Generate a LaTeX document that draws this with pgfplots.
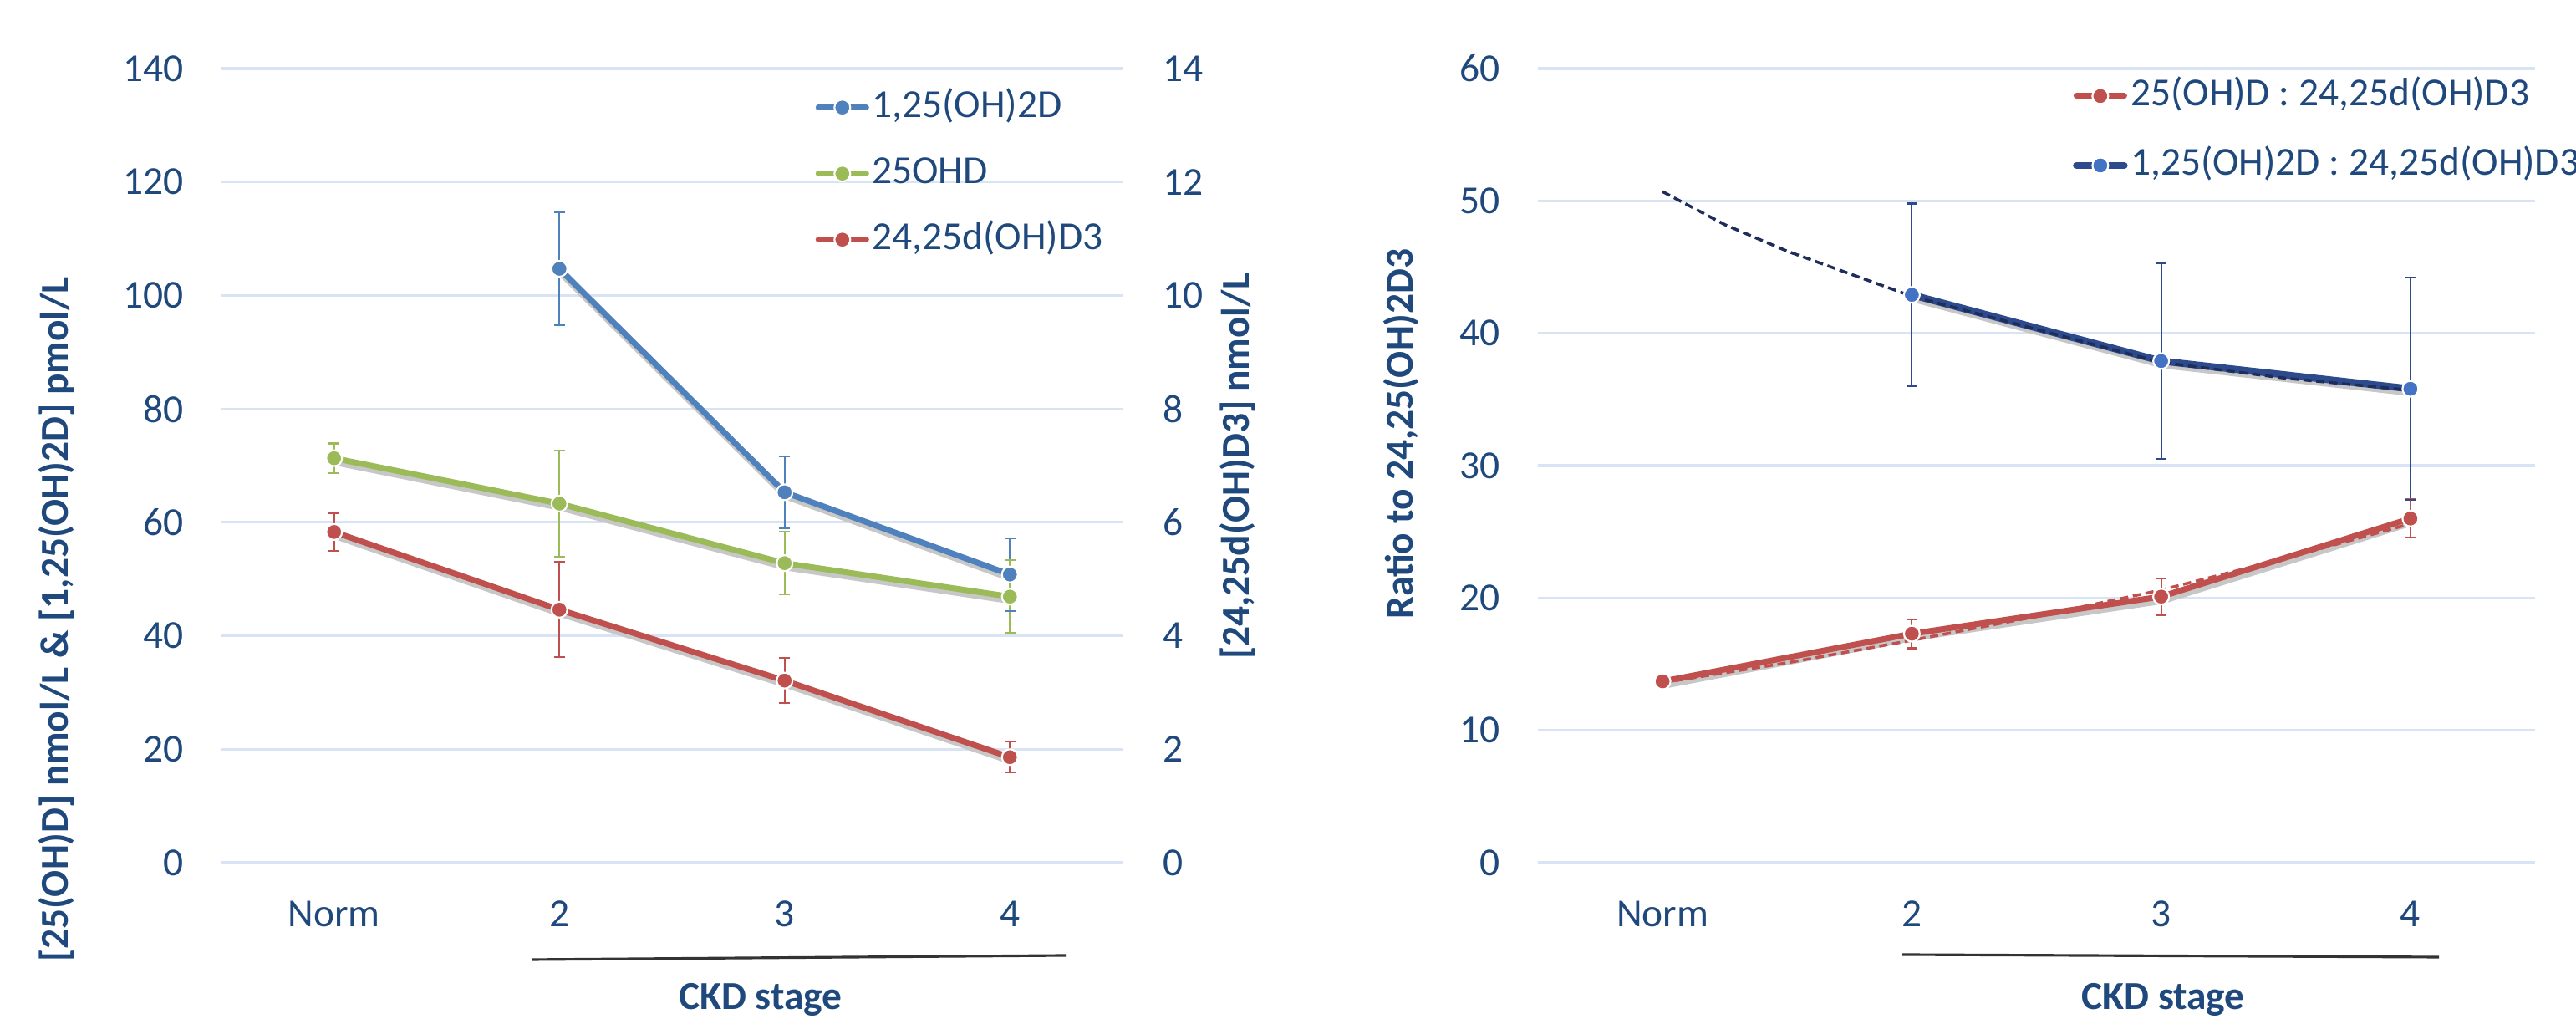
\documentclass[border=0pt]{standalone}
\usepackage{fontspec}
\setmainfont{Carlito}
\usepackage{pgfplots}
\usepackage{pgfplotstable}
\pgfplotsset{compat=1.18}
\definecolor{textblue}{RGB}{31,73,125}
\definecolor{gridc}{RGB}{216,227,243}
\definecolor{blueL}{RGB}{79,129,189}
\definecolor{greenL}{RGB}{155,187,89}
\definecolor{redL}{RGB}{192,80,77}
\definecolor{navyL}{RGB}{44,74,140}
\definecolor{navyM}{RGB}{68,114,196}
\definecolor{navyT}{RGB}{30,45,90}
\newcommand{\tickfont}{\fontsize{13.5}{16}\selectfont}

% left chart data (x, mean, error, upper cap, lower cap)
\pgfplotstableread{
x y e hi lo
1 104.7 10.0 114.7 94.7
2 65.3 6.3 71.6 59.0
3 50.8 6.4 57.2 44.4
}\blueD
\pgfplotstableread{
x y e hi lo
0 71.3 2.6 73.9 68.7
1 63.3 9.3 72.6 54.0
2 52.8 5.5 58.3 47.3
3 46.9 6.4 53.3 40.5
}\greenD
\pgfplotstableread{
x y e hi lo
0 5.83 0.33 6.16 5.50
1 4.46 0.84 5.30 3.62
2 3.21 0.40 3.61 2.81
3 1.86 0.27 2.13 1.59
}\redD
% right chart data
\pgfplotstableread{
x y e hi lo
0 13.7 0 13.7 13.7
1 17.3 1.1 18.4 16.2
2 20.1 1.4 21.5 18.7
3 26.0 1.45 27.45 24.55
}\redR
\pgfplotstableread{
x y e hi lo
1 42.9 6.9 49.8 36.0
2 37.9 7.4 45.3 30.5
3 35.8 8.4 44.2 27.4
}\blueR
\pgfplotstableread{
x y
0 50.7
0.25 48.2
0.5 46.2
0.75 44.5
1 42.8
1.5 40.3
2 37.8
2.5 36.6
3 35.7
}\blueT
\pgfplotstableread{
x y
0 13.6
0.5 15.1
1 16.8
1.5 18.6
2 20.6
2.5 23.0
3 25.6
}\redT

\pgfplotsset{
  base/.style={
    scale only axis, clip=false,
    axis line style={draw=none},
    major tick length=0pt, tick style={draw=none},
    xmin=-0.5, xmax=3.5,
    xtick={0,1,2,3}, xticklabels={Norm,2,3,4},
    ticklabel style={font=\tickfont, text=textblue, inner sep=0pt},
    xticklabel style={anchor=north, yshift=-0.45cm},
    /pgf/number format/assume math mode=true,
    grid style={draw=gridc, line width=0.9pt},
    legend cell align=left,
    legend image code/.code={\draw[mark repeat=2,mark phase=2,line cap=round,#1] plot coordinates {(0cm,0cm) (0.285cm,0cm) (0.57cm,0cm)};},
    legend style={draw=none, fill=none, font=\tickfont, text=textblue, inner sep=0pt,
       nodes={inner sep=0.035cm, text height=0.36cm, text depth=0.12cm}},
  },
  ser/.style 2 args={line width=#2, line cap=round, mark=*, mark size=2.7pt,
     mark options={fill=#1, draw=white, line width=0.6pt}, color=#1},
  eb/.style={error bars/.cd, y dir=both, y explicit, error mark=none,
     error bar style={draw=#1, line width=0.6pt, solid}},
  caps/.style={forget plot, only marks, mark=-, mark size=1.9pt,
     mark options={draw=#1, line width=0.6pt, solid}},
  shadow/.style={forget plot, mark=none, draw=black!22, line width=2.4pt, line cap=round,
     transform canvas={xshift=0.5pt, yshift=-1.3pt}},
}

\begin{document}
\begin{tikzpicture}
\path[use as bounding box] (0,0) rectangle (30.82,12.19);

% ---------------- left chart, primary axis
\begin{axis}[base, at={(2.65cm,1.87cm)}, anchor=south west,
  width=10.78cm, height=9.50cm,
  ymin=0, ymax=140, ytick={0,20,...,140}, ymajorgrids,
  yticklabel style={anchor=east, xshift=-0.45cm},
  legend style={at={(0.6587,0.9805)}, anchor=north west, row sep=0.24cm}]
\addplot[shadow] table[x=x,y=y] {\blueD};
\addplot[shadow] table[x=x,y=y] {\greenD};
\addplot[caps=blueL] table[x=x,y=hi] {\blueD};
\addplot[caps=blueL] table[x=x,y=lo] {\blueD};
\addplot[caps=greenL] table[x=x,y=hi] {\greenD};
\addplot[caps=greenL] table[x=x,y=lo] {\greenD};
\addplot[ser={blueL}{2pt}, eb=blueL] table[x=x,y=y,y error=e] {\blueD};
\addlegendentry{1,25(OH)2D}
\addplot[ser={greenL}{2pt}, eb=greenL] table[x=x,y=y,y error=e] {\greenD};
\addlegendentry{25OHD}
\addlegendimage{ser={redL}{2pt}}
\addlegendentry{24,25d(OH)D3}
\end{axis}

% ---------------- left chart, secondary axis
\begin{axis}[base, at={(2.65cm,1.87cm)}, anchor=south west,
  width=10.78cm, height=9.50cm,
  axis x line=none, axis y line*=right,
  ymin=0, ymax=14, ytick={0,2,...,14},
  yticklabel style={anchor=west, xshift=0.48cm}]
\addplot[shadow] table[x=x,y=y] {\redD};
\addplot[caps=redL] table[x=x,y=hi] {\redD};
\addplot[caps=redL] table[x=x,y=lo] {\redD};
\addplot[ser={redL}{2pt}, eb=redL] table[x=x,y=y,y error=e] {\redD};
\end{axis}

% ---------------- right chart
\begin{axis}[base, at={(18.40cm,1.87cm)}, anchor=south west,
  width=11.93cm, height=9.50cm,
  ymin=0, ymax=60, ytick={0,10,...,60}, ymajorgrids,
  yticklabel style={anchor=east, xshift=-0.45cm},
  legend style={at={(0.536,0.995)}, anchor=north west, row sep=0.28cm}]
\addplot[shadow] table[x=x,y=y] {\redR};
\addplot[shadow] table[x=x,y=y] {\blueR};
\addplot[caps=redL] table[x=x,y=hi] {\redR};
\addplot[caps=redL] table[x=x,y=lo] {\redR};
\addplot[caps=navyL] table[x=x,y=hi] {\blueR};
\addplot[caps=navyL] table[x=x,y=lo] {\blueR};
\addplot[ser={redL}{2pt}, eb=redL] table[x=x,y=y,y error=e] {\redR};
\addlegendentry{25(OH)D : 24,25d(OH)D3}
\addplot[ser={navyL}{2.4pt}, mark options={fill=navyM, draw=white, line width=0.6pt}, eb=navyL] table[x=x,y=y,y error=e] {\blueR};
\addlegendentry{1,25(OH)2D : 24,25d(OH)D3}
\addplot[forget plot, line width=1pt, color=navyT, dash pattern=on 2.8pt off 1.6pt, mark=none] table[x=x,y=y] {\blueT};
\addplot[forget plot, line width=1pt, color=redL, dash pattern=on 2.8pt off 1.6pt, mark=none] table[x=x,y=y] {\redT};
\end{axis}

% axis titles and annotations
\node[rotate=90, anchor=base, font=\tickfont\bfseries, text=textblue] at (0.82,4.78) {[25(OH)D] nmol/L \& [1,25(OH)2D] pmol/L};
\node[rotate=90, anchor=base, font=\tickfont\bfseries, text=textblue] at (14.94,6.61) {[24,25d(OH)D3] nmol/L};
\node[rotate=90, anchor=base, font=\tickfont\bfseries, text=textblue] at (16.90,7.00) {Ratio to 24,25(OH)2D3};
\draw[line width=0.9pt, black!80] (6.36,0.71) -- (12.75,0.76);
\draw[line width=0.9pt, black!80] (22.76,0.77) -- (29.18,0.74);
\node[anchor=base, font=\tickfont\bfseries, text=textblue] at (9.10,0.11) {CKD stage};
\node[anchor=base, font=\tickfont\bfseries, text=textblue] at (25.88,0.11) {CKD stage};
\end{tikzpicture}
\end{document}
